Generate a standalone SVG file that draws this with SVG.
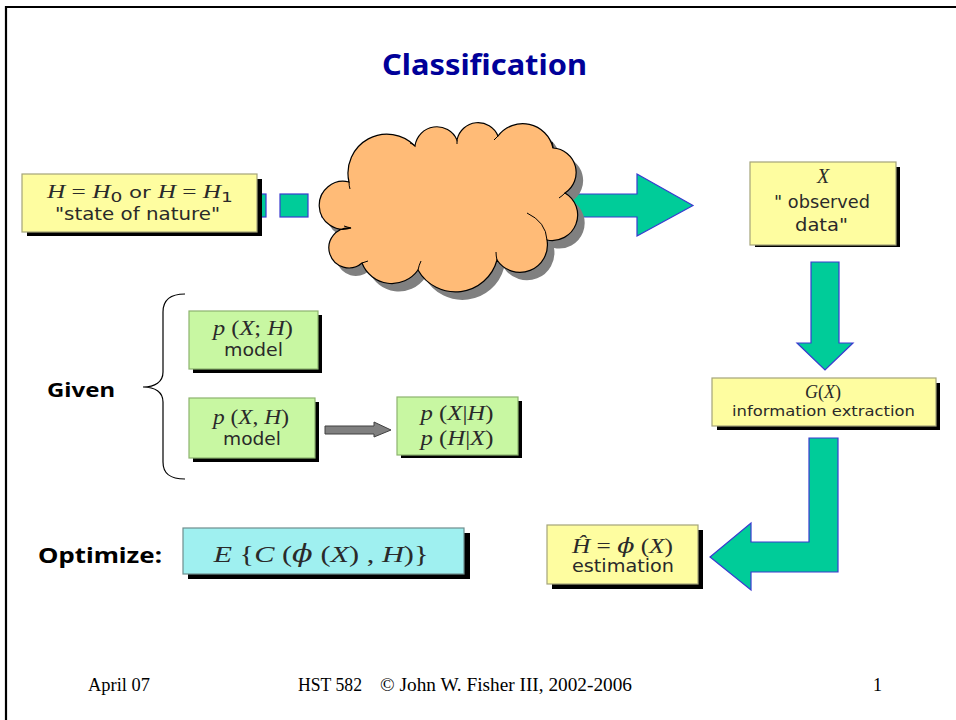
<svg xmlns="http://www.w3.org/2000/svg" width="956" height="720" viewBox="0 0 956 720">
<style>
.frame{stroke:#000;stroke-width:2.2;fill:none}
.yel{fill:#fefda0;stroke:#a4a47a;stroke-width:1.2}
.grn{fill:#c8f7a2;stroke:#8db36e;stroke-width:1.2}
.cyn{fill:#9ff0f0;stroke:#6f8e8e;stroke-width:1.2}
.shd{fill:#000}
.tarrow{fill:#00cc99;stroke:#3a3ad0;stroke-width:1.2}
.sans{font-family:"DejaVu Sans","Verdana",sans-serif;fill:#2a2a2a;text-anchor:middle}
.math{font-family:"Liberation Serif","Times New Roman",serif;fill:#2a2a2a;text-anchor:middle}
.it{font-style:italic}
.phi{font-family:"DejaVu Serif",serif;font-style:italic}
.comic{font-family:"Comic Sans MS","Noto Sans",sans-serif;font-weight:bold}
.curl{fill:none;stroke:#000;stroke-width:1}
.foot{font-family:"Liberation Serif","Times New Roman",serif;font-size:18px;fill:#000}
</style>
<rect width="956" height="720" fill="#fff"/>
<path class="frame" d="M6,720 V7 H956"/>

<text class="comic" x="382" y="75" font-size="28" fill="#000099" textLength="205" lengthAdjust="spacingAndGlyphs">Classification</text>

<g id="connectors">
  <rect class="tarrow" x="238" y="194" width="28" height="23"/>
  <rect class="tarrow" x="280" y="194" width="28" height="23"/>
  <path class="tarrow" d="M322,194 H637 V174 L693,205.5 L637,236 V217 H322 Z"/>
  <path class="tarrow" d="M811,262 H839 V343 H853 L825,370 L797,343 H811 Z"/>
  <path class="tarrow" d="M809,438 H838 V572 H751 V590 L710,557 L751,523 V542 H809 Z"/>
  <path d="M325,426 H374 V422 L391,430 L374,437 V434 H325 Z" fill="#808080" stroke="#404040" stroke-width="1"/>
  <path d="M185,294 C170,294 163,300 163,312 L163,372 C163,382 155,387 143,387 C155,387 163,392 163,402 L163,462 C163,474 170,479 185,479" fill="none" stroke="#000" stroke-width="1.2"/>
</g>

<g id="cloud">
  <path transform="translate(7,8)" fill="#808080" d="M351,228 A24 24 0 1 1 349,182 A39 39 0 0 1 415,146 A22 22 0 0 1 457,140 A21.5 21.5 0 0 1 498,136 A31 31 0 0 1 553,148 A24.5 24.5 0 0 1 565,193 A25.5 25.5 0 0 1 547,240 A27.5 27.5 0 0 1 497,260 A43 43 0 0 1 418,270 A32 32 0 0 1 362,263 A20 20 0 1 1 351,228 Z"/>
  <path fill="#ffbb77" stroke="#000" stroke-width="1.2" d="M351,228 A24 24 0 1 1 349,182 A39 39 0 0 1 415,146 A22 22 0 0 1 457,140 A21.5 21.5 0 0 1 498,136 A31 31 0 0 1 553,148 A24.5 24.5 0 0 1 565,193 A25.5 25.5 0 0 1 547,240 A27.5 27.5 0 0 1 497,260 A43 43 0 0 1 418,270 A32 32 0 0 1 362,263 A20 20 0 1 1 351,228 Z"/>
  <path class="curl" d="M349,182 Q349,186 350,189"/>
  <path class="curl" d="M351,228 Q347,227 344,226"/>
  <path class="curl" d="M362,263 Q365,262 368,261"/>
  <path class="curl" d="M418,270 Q419,265 421,261"/>
  <path class="curl" d="M497,260 Q496,256 496,252"/>
  <path class="curl" d="M547,240 Q546,222 527,213"/>
  <path class="curl" d="M565,193 Q562,196 559,198"/>
  <path class="curl" d="M553,148 Q553,145 552,142"/>
  <path class="curl" d="M498,136 Q496,138 494,140"/>
  <path class="curl" d="M457,140 Q457,142 457,144"/>
  <path class="curl" d="M415,146 Q413,144 410,143"/>
</g>

<g id="state">
  <rect class="shd" x="27" y="179" width="235" height="57"/>
  <rect class="yel" x="22" y="174" width="235" height="58"/>
  <text class="math" x="140" y="198" font-size="19" textLength="186" lengthAdjust="spacingAndGlyphs"><tspan class="it">H</tspan> = <tspan class="it">H</tspan><tspan font-family="DejaVu Sans,sans-serif" font-size="14" dy="4">0</tspan><tspan font-family="DejaVu Sans,sans-serif" font-size="16" dy="-4"> or </tspan><tspan class="it">H</tspan> = <tspan class="it">H</tspan><tspan font-family="DejaVu Sans,sans-serif" font-size="14" dy="4">1</tspan></text>
  <text class="sans" x="137.5" y="220" font-size="17" textLength="165" lengthAdjust="spacingAndGlyphs">"state of nature"</text>
</g>

<g id="observed">
  <rect class="shd" x="755" y="167" width="145" height="80"/>
  <rect class="yel" x="750" y="162" width="146" height="83"/>
  <text class="math it" x="823" y="183" font-size="20">X</text>
  <text class="sans" x="822" y="208" font-size="17" textLength="96" lengthAdjust="spacingAndGlyphs">" observed</text>
  <text class="sans" x="821.5" y="231" font-size="17" textLength="53" lengthAdjust="spacingAndGlyphs">data"</text>
</g>

<g id="extraction">
  <rect class="shd" x="717" y="383" width="223" height="47"/>
  <rect class="yel" x="712" y="378" width="224" height="48"/>
  <text class="math" x="823" y="398" font-size="18"><tspan class="it">G</tspan>(<tspan class="it">X</tspan>)</text>
  <text class="sans" x="823.5" y="416" font-size="14" textLength="183" lengthAdjust="spacingAndGlyphs">information extraction</text>
</g>

<g id="estimation">
  <rect class="shd" x="552" y="530" width="151" height="59"/>
  <rect class="yel" x="547" y="525" width="151" height="59"/>
  <text class="math" x="622.5" y="553" font-size="20" textLength="101" lengthAdjust="spacingAndGlyphs"><tspan class="it">Ĥ</tspan> = <tspan class="phi">ϕ</tspan> (<tspan class="it">X</tspan>)</text>
  <text class="sans" x="623" y="572" font-size="17" textLength="102" lengthAdjust="spacingAndGlyphs">estimation</text>
</g>

<g id="model1">
  <rect class="shd" x="193" y="315" width="129" height="58"/>
  <rect class="grn" x="189" y="311" width="129" height="58"/>
  <text class="math" x="253" y="335" font-size="20" textLength="80" lengthAdjust="spacingAndGlyphs"><tspan class="it">p</tspan> (<tspan class="it">X</tspan>; <tspan class="it">H</tspan>)</text>
  <text class="sans" x="253.5" y="356" font-size="17" textLength="59" lengthAdjust="spacingAndGlyphs">model</text>
</g>

<g id="model2">
  <rect class="shd" x="193" y="402" width="126" height="60"/>
  <rect class="grn" x="189" y="398" width="126" height="60"/>
  <text class="math" x="251" y="424" font-size="20" textLength="76" lengthAdjust="spacingAndGlyphs"><tspan class="it">p</tspan> (<tspan class="it">X</tspan>, <tspan class="it">H</tspan>)</text>
  <text class="sans" x="252" y="445" font-size="17" textLength="58" lengthAdjust="spacingAndGlyphs">model</text>
</g>

<g id="conditionals">
  <rect class="shd" x="401" y="401" width="121" height="57"/>
  <rect class="grn" x="397" y="397" width="121" height="58"/>
  <text class="math" x="457" y="420" font-size="20" textLength="73" lengthAdjust="spacingAndGlyphs"><tspan class="it">p</tspan> (<tspan class="it">X</tspan>|<tspan class="it">H</tspan>)</text>
  <text class="math" x="457" y="445" font-size="20" textLength="73" lengthAdjust="spacingAndGlyphs"><tspan class="it">p</tspan> (<tspan class="it">H</tspan>|<tspan class="it">X</tspan>)</text>
</g>

<g id="given">
  <text class="comic" x="47" y="397" font-size="20" fill="#000" textLength="68" lengthAdjust="spacingAndGlyphs">Given</text>
</g>

<g id="optimize">
  <text class="comic" x="38" y="563" font-size="21" fill="#000" textLength="124" lengthAdjust="spacingAndGlyphs">Optimize:</text>
</g>

<g id="objective">
  <rect class="shd" x="188" y="533" width="282" height="46"/>
  <rect class="cyn" x="183" y="528" width="281" height="46"/>
  <text class="math" x="321" y="562" font-size="24" textLength="215" lengthAdjust="spacingAndGlyphs"><tspan class="it">E</tspan> {<tspan class="it">C</tspan> (<tspan class="phi">ϕ</tspan> (<tspan class="it">X</tspan>) , <tspan class="it">H</tspan>)}</text>
</g>

<g id="footer">
  <text class="foot" x="88" y="691" textLength="62" lengthAdjust="spacingAndGlyphs">April 07</text>
  <text class="foot" x="298" y="691" textLength="64" lengthAdjust="spacingAndGlyphs">HST 582</text>
  <text class="foot" x="380" y="691" textLength="252" lengthAdjust="spacingAndGlyphs">© John W. Fisher III, 2002-2006</text>
  <text class="foot" x="873" y="691">1</text>
</g>
</svg>
